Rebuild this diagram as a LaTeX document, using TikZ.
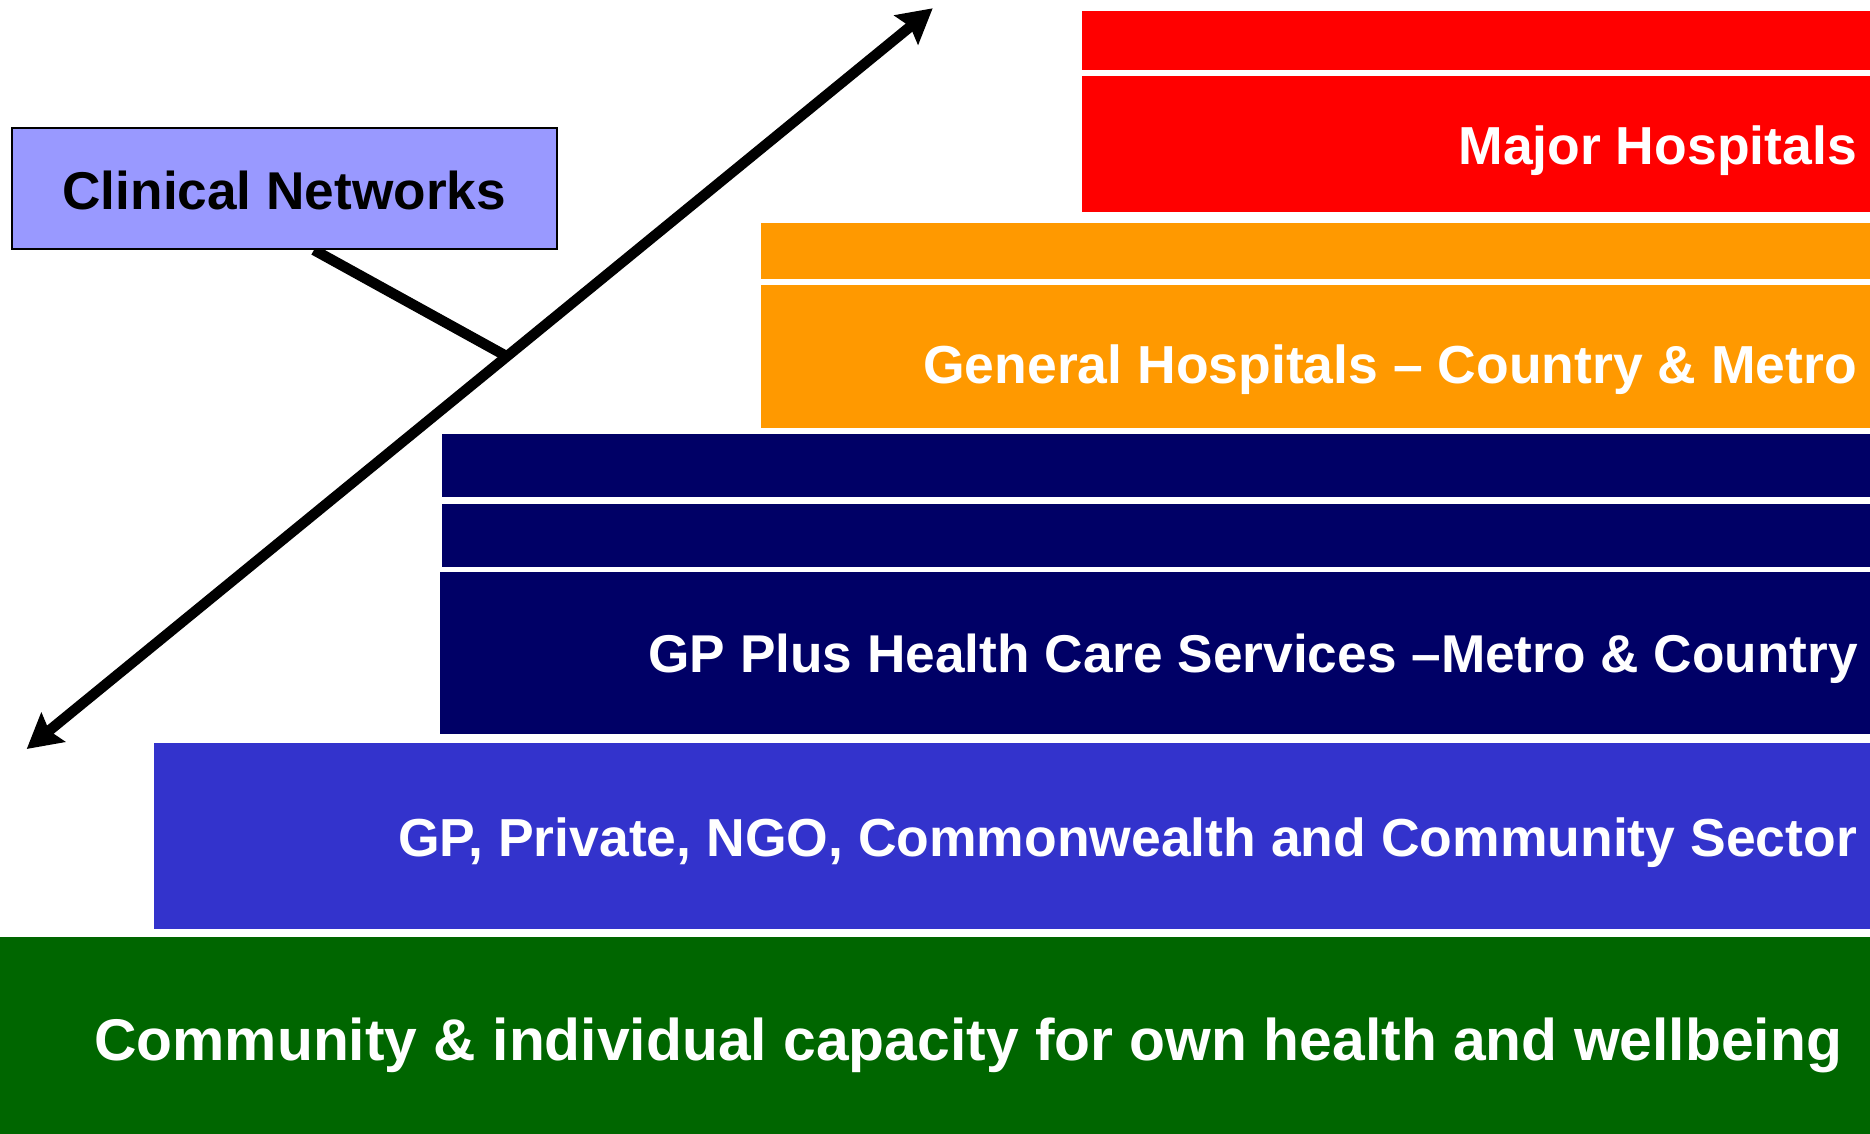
\documentclass[tikz,border=0pt]{standalone}
\usepackage{fontspec}
\setmainfont{Liberation Sans}
\usetikzlibrary{arrows.meta,calc,backgrounds}
\definecolor{cRed}{HTML}{FF0000}
\definecolor{cOrange}{HTML}{FF9900}
\definecolor{cNavy}{HTML}{000066}
\definecolor{cBlue}{HTML}{3333CC}
\definecolor{cGreen}{HTML}{006600}
\definecolor{cLav}{HTML}{9999FF}
\tikzset{
  bar/.style={draw=none, inner sep=0pt, outer sep=0pt, anchor=south west},
  lbl/.style={text=white, inner sep=0pt, anchor=base east, font=\bfseries\fontsize{53.5}{60}\selectfont},
  biglbl/.style={text=white, inner sep=0pt, anchor=base west, font=\bfseries\fontsize{58.8}{66}\selectfont},
  netbox/.style={draw=black, line width=2pt, fill=cLav, inner sep=0pt},
  nettext/.style={inner sep=0pt, anchor=base, font=\bfseries\fontsize{53.2}{60}\selectfont},
  thick line/.style={line width=10.5pt, black},
  dbl/.style={thick line, {Stealth[length=34pt,width=37pt,inset=5pt]}-{Stealth[length=34pt,width=37pt,inset=5pt]}}
}
\begin{document}
\begin{tikzpicture}[x=1pt,y=1pt]
\useasboundingbox (0,0) rectangle (1870,1134);
% bars
\node[bar, fill=cRed, minimum width=788, minimum height=59] (r1) at (1082,1064) {};
\node[bar, fill=cRed, minimum width=788, minimum height=136.3] (r2) at (1082,921.7) {};
\node[bar, fill=cOrange, minimum width=1109, minimum height=56.3] (o1) at (761,855) {};
\node[bar, fill=cOrange, minimum width=1109, minimum height=143.3] (o2) at (761,705.7) {};
\node[bar, fill=cNavy, minimum width=1428.5, minimum height=63] (n1) at (441.5,636.5) {};
\node[bar, fill=cNavy, minimum width=1428.5, minimum height=63.3] (n2) at (441.5,567) {};
\node[bar, fill=cNavy, minimum width=1430, minimum height=161.5] (n3) at (440,400) {};
\node[bar, fill=cBlue, minimum width=1716.2, minimum height=186.3] (b1) at (153.8,205) {};
\node[bar, fill=cGreen, minimum width=1870, minimum height=196.8] (g1) at (0,0) {};
% labels
\node[lbl] (tr) at (1857,969.7) {Major Hospitals};
\node[lbl] (to) at (1857,750.7) {General Hospitals – Country \& Metro};
\node[lbl, font=\bfseries\fontsize{53.2}{60}\selectfont] (tn) at (1858,461) {GP Plus Health Care Services –Metro \& Country};
\node[lbl] (tb) at (1857,277.4) {GP, Private, NGO, Commonwealth and Community Sector};
\node[biglbl] (tg) at (94,73.5) {Community \& individual capacity for own health and wellbeing};
% arrow
\coordinate (lo) at (26.7,385);
\coordinate (hi) at (932.7,1125.7);
\draw[dbl] (lo) -- (hi);
\coordinate (junc) at ($(lo)!0.53!(hi)$);
% clinical networks box
\node[netbox, minimum width=545.5, minimum height=121, anchor=south west] (cn) at (10.5,884) {};
\node[nettext] (cnt) at ($(cn.south)+(0,40.7)$) {Clinical Networks};
\coordinate (cs) at ($(cn.south)+(29.7,0)$);
\begin{scope}[on background layer]
\draw[thick line] (cs) -- (junc);
\end{scope}
\end{tikzpicture}
\end{document}
